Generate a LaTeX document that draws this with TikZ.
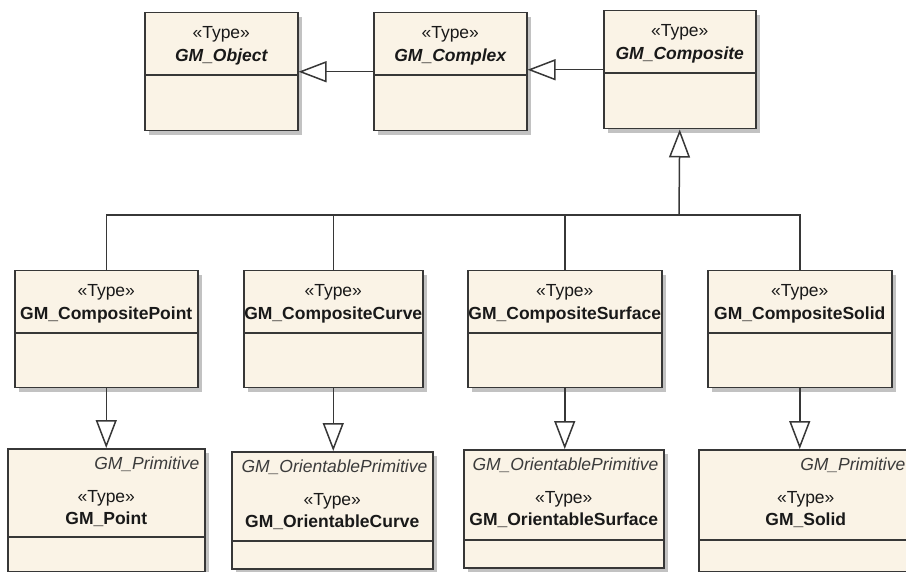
\documentclass[tikz,border=0pt]{standalone}
\usepackage{fontspec}
\setmainfont{Liberation Sans}
\usetikzlibrary{positioning, arrows.meta, shadows}
\definecolor{umlfill}{RGB}{250,243,230}
\definecolor{umlline}{RGB}{55,55,55}
\definecolor{umltext}{RGB}{25,25,25}

\begin{document}
\begin{tikzpicture}[
  x=1pt, y=-1pt,
  font=\fontsize{17.5}{21}\selectfont,
  cls/.style={draw=umlline, line width=1.5pt, fill=umlfill, anchor=north west,
              inner sep=0pt, drop shadow={shadow xshift=4pt, shadow yshift=-4pt,
              fill=black!40, opacity=0.6}},
  stereo/.style={text=umltext, inner sep=0pt, text height=12pt, text depth=4pt},
  cname/.style={stereo, font=\fontsize{17.5}{21}\selectfont\bfseries},
  aname/.style={stereo, font=\fontsize{17.5}{21}\selectfont\bfseries\itshape},
  prim/.style={stereo, anchor=east, text=umltext!85,
               font=\fontsize{17.5}{21}\selectfont\itshape},
  sep/.style={draw=umlline, line width=1.5pt},
  link/.style={draw=umlline, line width=1.5pt},
  gen/.style={link, -{Triangle[open, length=28pt, width=21pt]}},
]
\useasboundingbox (0,0) rectangle (906,572);

% abstract types, top row
\node[cls, minimum width=153pt, minimum height=118pt] (obj) at (144,12) {};
\node[cls, minimum width=153pt, minimum height=118pt] (cplx) at (373,12) {};
\node[cls, minimum width=152pt, minimum height=118pt] (comp) at (603,10) {};

\node[stereo] (obj-s) at ([yshift=-23pt]obj.north) {«Type»};
\node[aname, below=6pt of obj-s] (obj-n) {GM\_Object};
\node[stereo] (cplx-s) at ([yshift=-23pt]cplx.north) {«Type»};
\node[aname, below=6pt of cplx-s] (cplx-n) {GM\_Complex};
\node[stereo] (comp-s) at ([yshift=-23pt]comp.north) {«Type»};
\node[aname, below=6pt of comp-s] (comp-n) {GM\_Composite};

\draw[sep] ([yshift=-63pt]obj.north west) -- ([yshift=-63pt]obj.north east);
\draw[sep] ([yshift=-63pt]cplx.north west) -- ([yshift=-63pt]cplx.north east);
\draw[sep] ([yshift=-63pt]comp.north west) -- ([yshift=-63pt]comp.north east);

% composites, middle row
\node[cls, minimum width=183pt, minimum height=117pt] (cpt) at (14,270) {};
\node[cls, minimum width=179pt, minimum height=117pt] (ccv) at (243,270) {};
\node[cls, minimum width=194pt, minimum height=117pt] (csf) at (467,270) {};
\node[cls, minimum width=184pt, minimum height=117pt] (csd) at (707,270) {};

\node[stereo] (cpt-s) at ([yshift=-23pt]cpt.north) {«Type»};
\node[cname, below=6pt of cpt-s] (cpt-n) {GM\_CompositePoint};
\node[stereo] (ccv-s) at ([yshift=-23pt]ccv.north) {«Type»};
\node[cname, below=6pt of ccv-s] (ccv-n) {GM\_CompositeCurve};
\node[stereo] (csf-s) at ([yshift=-23pt]csf.north) {«Type»};
\node[cname, below=6pt of csf-s] (csf-n) {GM\_CompositeSurface};
\node[stereo] (csd-s) at ([yshift=-23pt]csd.north) {«Type»};
\node[cname, below=6pt of csd-s] (csd-n) {GM\_CompositeSolid};

\draw[sep] ([yshift=-63pt]cpt.north west) -- ([yshift=-63pt]cpt.north east);
\draw[sep] ([yshift=-63pt]ccv.north west) -- ([yshift=-63pt]ccv.north east);
\draw[sep] ([yshift=-63pt]csf.north west) -- ([yshift=-63pt]csf.north east);
\draw[sep] ([yshift=-63pt]csd.north west) -- ([yshift=-63pt]csd.north east);

% primitives, bottom row
\node[cls, minimum width=197pt, minimum height=123pt] (pt) at (7,448) {};
\node[cls, minimum width=201pt, minimum height=117pt] (ocv) at (231,451) {};
\node[cls, minimum width=200pt, minimum height=118pt] (osf) at (463,449) {};
\node[cls, minimum width=214pt, minimum height=122pt] (sol) at (698,449) {};

\node[prim] (pt-p) at ([xshift=-6pt, yshift=-17pt]pt.north east) {GM\_Primitive};
\node[prim] (ocv-p) at ([xshift=-6pt, yshift=-17pt]ocv.north east) {GM\_OrientablePrimitive};
\node[prim] (osf-p) at ([xshift=-6pt, yshift=-17pt]osf.north east) {GM\_OrientablePrimitive};
\node[prim] (sol-p) at ([xshift=-8pt, yshift=-17pt]sol.north east) {GM\_Primitive};

\node[stereo] (pt-s) at ([yshift=-50pt]pt.north) {«Type»};
\node[cname, below=6pt of pt-s] (pt-n) {GM\_Point};
\node[stereo] (ocv-s) at ([yshift=-50pt]ocv.north) {«Type»};
\node[cname, below=6pt of ocv-s] (ocv-n) {GM\_OrientableCurve};
\node[stereo] (osf-s) at ([yshift=-50pt]osf.north) {«Type»};
\node[cname, below=6pt of osf-s] (osf-n) {GM\_OrientableSurface};
\node[stereo] (sol-s) at ([yshift=-50pt]sol.north) {«Type»};
\node[cname, below=6pt of sol-s] (sol-n) {GM\_Solid};

\draw[sep] ([yshift=-89pt]pt.north west) -- ([yshift=-89pt]pt.north east);
\draw[sep] ([yshift=-90pt]ocv.north west) -- ([yshift=-90pt]ocv.north east);
\draw[sep] ([yshift=-91pt]osf.north west) -- ([yshift=-91pt]osf.north east);
\draw[sep] ([yshift=-91pt]sol.north west) -- ([yshift=-91pt]sol.north east);

% generalizations
\coordinate (bus) at (679,215);
\draw[gen] (cplx.west) -- (obj.east);
\draw[gen] (comp.west) -- (comp.west -| cplx.east);
\draw[gen] (bus) -- (comp.south);
\draw[link] (cpt.north) |- (bus -| csd.north) -- (csd.north);
\draw[link] (ccv.north) -- (ccv.north |- bus);
\draw[link] (csf.north) -- (csf.north |- bus);

\draw[gen] (cpt.south) -- (cpt.south |- pt.north);
\draw[gen] (ccv.south) -- (ccv.south |- ocv.north);
\draw[gen] (csf.south) -- (csf.south |- osf.north);
\draw[gen] (csd.south) -- (csd.south |- sol.north);

\end{tikzpicture}
\end{document}
